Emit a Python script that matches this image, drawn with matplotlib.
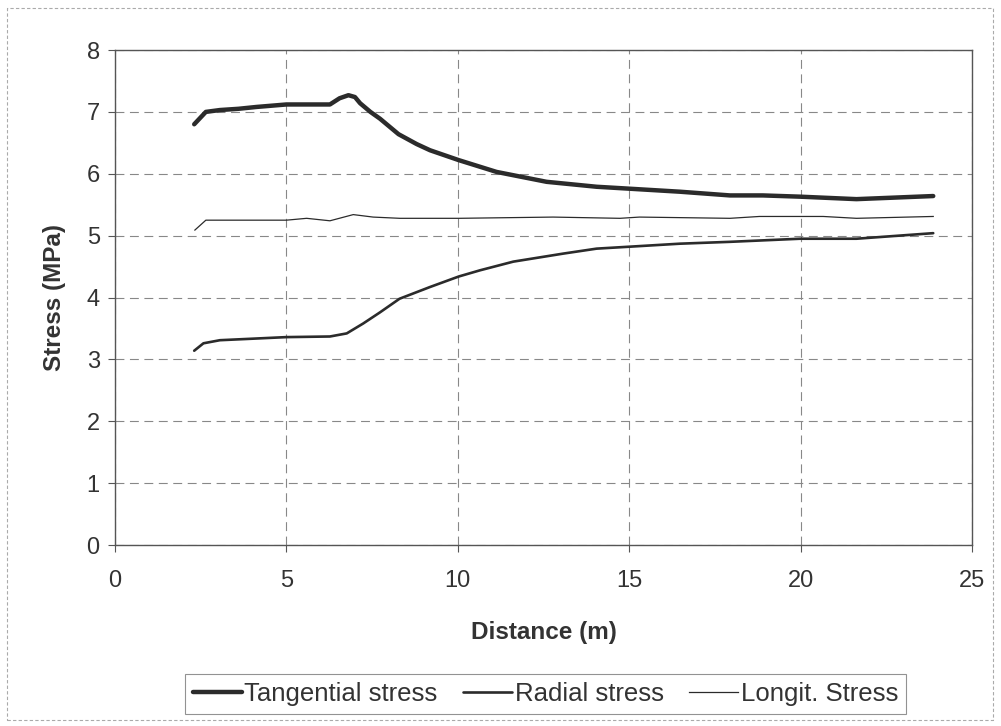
import matplotlib
matplotlib.use("Agg")
import matplotlib.pyplot as plt
from matplotlib.patches import Rectangle

plt.rcParams['font.family'] = ['Liberation Sans', 'DejaVu Sans']

# Tangential stress
tang_x = [2.31, 2.65, 3.06, 3.6, 4.13, 5.0, 5.6, 6.27, 6.55, 6.81, 7.0, 7.15, 7.45, 7.73,
          8.27, 8.8, 9.19, 10.03, 11.13, 12.59, 14.05, 14.97, 16.48, 17.94, 18.9, 19.98,
          21.63, 23.87]
tang_y = [6.80, 7.00, 7.03, 7.05, 7.08, 7.12, 7.12, 7.12, 7.22, 7.27, 7.24, 7.14, 7.0, 6.89,
          6.64, 6.48, 6.38, 6.22, 6.03, 5.87, 5.79, 5.76, 5.71, 5.65, 5.65, 5.63,
          5.59, 5.64]

# Radial stress
rad_x = [2.31, 2.58, 3.06, 3.84, 5.0, 6.27, 6.76, 7.24, 7.73, 8.3, 9.19, 10.03, 10.65,
         11.62, 13.08, 14.05, 14.97, 16.48, 17.94, 19.98, 21.63, 23.87]
rad_y = [3.14, 3.26, 3.31, 3.33, 3.36, 3.37, 3.42, 3.58, 3.76, 3.98, 4.17, 4.34, 4.44,
         4.58, 4.71, 4.79, 4.82, 4.87, 4.90, 4.95, 4.95, 5.04]

# Longitudinal stress
long_x = [2.33, 2.65, 5.0, 5.59, 6.27, 6.95, 7.53, 8.31, 10.03, 12.78, 14.73, 15.3,
          17.94, 18.8, 20.66, 21.63, 23.87]
long_y = [5.09, 5.25, 5.25, 5.28, 5.24, 5.34, 5.30, 5.28, 5.28, 5.30, 5.28, 5.30,
          5.28, 5.31, 5.31, 5.28, 5.31]

xticks = [0, 5, 10, 15, 20, 25]
yticks = [0, 1, 2, 3, 4, 5, 6, 7, 8]

fig = plt.figure(figsize=(10.01, 7.26), dpi=100)
ax = fig.add_axes([0.1149, 0.2493, 0.971 - 0.1149, 0.9311 - 0.2493])

lc = '#2b2b2b'
ax.plot(tang_x, tang_y, color=lc, lw=3.2, solid_capstyle='round', solid_joinstyle='round',
        label='Tangential stress')
ax.plot(rad_x, rad_y, color=lc, lw=1.9, solid_capstyle='round', solid_joinstyle='round',
        label='Radial stress')
ax.plot(long_x, long_y, color=lc, lw=0.9, label='Longit. Stress')

ax.set_xlim(0, 25)
ax.set_ylim(0, 8)
ax.set_xticks(xticks)
ax.set_yticks(yticks)
ax.grid(True, color='#888888', linestyle=(0, (8, 5)), linewidth=0.8)
ax.tick_params(axis='both', direction='out', length=5, width=0.8, color='#555555',
               labelsize=17, labelcolor='#333333')
ax.tick_params(axis='x', pad=13)
ax.tick_params(axis='y', pad=6)
for s in ax.spines.values():
    s.set_color('#555555')
    s.set_linewidth(1.0)

ax.set_xlabel('Distance (m)', fontsize=17.5, fontweight='bold', color='#333333', labelpad=21)
ax.set_ylabel('Stress (MPa)', fontsize=17.5, fontweight='bold', color='#333333', labelpad=15)

leg = fig.legend(loc='center', bbox_to_anchor=(0.545, 1 - 694 / 726), ncol=3, fontsize=18.5,
                 frameon=True, fancybox=False, edgecolor='#777777', handlelength=1.9,
                 handletextpad=0.1, columnspacing=1.0, borderpad=0.3)
leg.get_frame().set_linewidth(0.8)
for t in leg.get_texts():
    t.set_color('#333333')

fig.patches.append(Rectangle((7 / 1001, 1 - 720 / 726), 986 / 1001, 712 / 726,
                             transform=fig.transFigure, fill=False,
                             edgecolor='#aaaaaa', linewidth=0.8, linestyle=(0, (3, 2))))

fig.savefig('out.png', dpi=100)
